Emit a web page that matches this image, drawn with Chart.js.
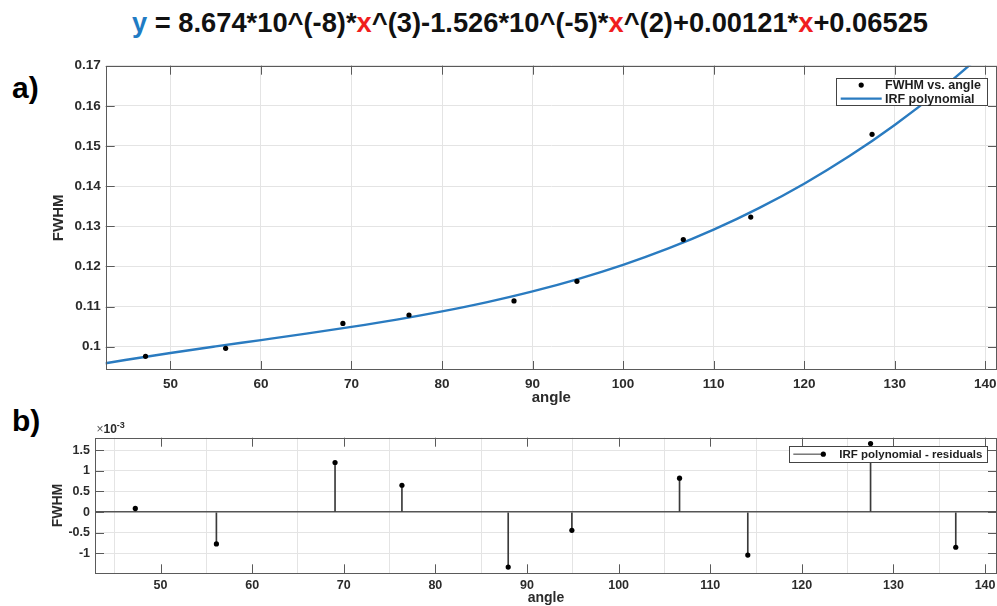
<!DOCTYPE html>
<html>
<head>
<meta charset="utf-8">
<script src="https://cdn.jsdelivr.net/npm/chart.js@4.4.1/dist/chart.umd.min.js"></script>
<style>
  html, body { margin: 0; padding: 0; background: #fff; }
  body {
    width: 997px; height: 606px; position: relative; overflow: hidden;
    font-family: "Liberation Sans", Arial, Helvetica, sans-serif;
  }
  #equation {
    position: absolute; left: 0; top: 9px; width: 1060px;
    text-align: center; white-space: nowrap;
    font-size: 27.3px; line-height: 27px; font-weight: bold; color: #111;
  }
  #equation .y { color: #1f7cc4; }
  #equation .x { color: #f01e1e; }
  .panel {
    position: absolute; left: 12px;
    font-size: 30px; line-height: 30px; font-weight: bold; color: #000;
  }
  canvas { position: absolute; left: 0; }
</style>
</head>
<body>
<div id="equation"><span class="y">y</span> = 8.674*10^(-8)*<span class="x">x</span>^(3)-1.526*10^(-5)*<span class="x">x</span>^(2)+0.00121*<span class="x">x</span>+0.06525</div>
<div class="panel" style="top:73px">a)</div>
<div class="panel" style="top:406px">b)</div>
<canvas id="fitChart" width="997" height="360" style="top:50px"></canvas>
<canvas id="residChart" width="997" height="196" style="top:410px"></canvas>

<script>
// measured peak widths
const fitAngle = [47.25, 56.1, 69.05, 76.35, 87.95, 94.9, 106.65, 114.1, 127.5];
const fitFwhm  = [0.0976, 0.0996, 0.1058, 0.1079, 0.1114, 0.1163, 0.1267, 0.1323, 0.1529];

// IRF polynomial, sampled along the angle range
const curveAngle = [42, 45, 50, 55, 60, 65, 70, 75, 80, 85, 90, 95, 100, 105, 110, 115, 120, 125, 130, 135, 140, 142];
const curveFwhm  = [0.09558, 0.09670, 0.09844, 0.10007, 0.10165, 0.10325, 0.10493, 0.10675, 0.10880, 0.11112,
                    0.11378, 0.11685, 0.12039, 0.12447, 0.12915, 0.13451, 0.14060, 0.14748, 0.15523, 0.16391,
                    0.17357, 0.17773];

// residuals (units of 1e-3)
const residAngle = [47.25, 56.1, 69.05, 76.35, 87.95, 94.9, 106.65, 114.1, 127.5, 136.8];
const residual   = [0.09, -0.77, 1.2, 0.65, -1.33, -0.44, 0.82, -1.04, 1.66, -0.85];

const angleTicks = [50, 60, 70, 80, 90, 100, 110, 120, 130, 140];
const fwhmTicks  = [0.1, 0.11, 0.12, 0.13, 0.14, 0.15, 0.16, 0.17];
const residTicks = [-1, -0.5, 0, 0.5, 1, 1.5];

const FONT = '"Liberation Sans", Arial, Helvetica, sans-serif';
const TEXT = '#2b2b2b';
const AXIS = '#5a5a5a';
const GRID = '#e4e4e4';
const BLUE = '#2a7bc0';

Chart.defaults.font.family = FONT;

// box around the axes with inward tick marks on all four sides
const axesBox = {
  id: 'axesBox',
  afterDatasetsDraw(chart) {
    const { ctx, chartArea: a, scales: { x, y } } = chart;
    const len = 9;
    ctx.save();
    ctx.strokeStyle = AXIS;
    ctx.lineWidth = 1;
    ctx.beginPath();
    x.ticks.forEach(t => {
      const px = Math.round(x.getPixelForValue(t.value)) + 0.5;
      ctx.moveTo(px, a.bottom); ctx.lineTo(px, a.bottom - len);
      ctx.moveTo(px, a.top); ctx.lineTo(px, a.top + len);
    });
    y.ticks.forEach(t => {
      const py = Math.round(y.getPixelForValue(t.value)) + 0.5;
      ctx.moveTo(a.left, py); ctx.lineTo(a.left + len, py);
      ctx.moveTo(a.right, py); ctx.lineTo(a.right - len, py);
    });
    ctx.stroke();
    ctx.strokeRect(Math.round(a.left) + 0.5, Math.round(a.top) + 0.5,
                   Math.round(a.right - a.left) - 1, Math.round(a.bottom - a.top) - 1);
    ctx.restore();
  }
};

// legend box drawn in the upper right corner of the plot area
const boxLegend = {
  id: 'boxLegend',
  afterDraw(chart, args, opts) {
    if (!opts.items) return;
    const { ctx, chartArea: a } = chart;
    const w = opts.width, h = opts.rowHeight * opts.items.length + opts.pad * 2;
    const left = a.right - opts.right - w, top = a.top + opts.top;
    ctx.save();
    ctx.fillStyle = '#fff';
    ctx.fillRect(left, top, w, h);
    ctx.strokeStyle = '#444';
    ctx.lineWidth = 1;
    ctx.strokeRect(Math.round(left) + 0.5, Math.round(top) + 0.5, Math.round(w), Math.round(h));
    ctx.font = 'bold ' + opts.fontSize + 'px ' + FONT;
    ctx.textBaseline = 'middle';
    opts.items.forEach((it, i) => {
      const cy = top + opts.pad + opts.rowHeight * (i + 0.5);
      const x0 = left + opts.sample[0], x1 = left + opts.sample[1];
      if (it.line) {
        ctx.strokeStyle = it.line;
        ctx.lineWidth = it.lineWidth;
        ctx.beginPath(); ctx.moveTo(x0, cy); ctx.lineTo(x1, cy); ctx.stroke();
      }
      if (it.dot) {
        ctx.fillStyle = it.dot;
        ctx.beginPath(); ctx.arc(it.dotAt === 'end' ? x1 : (x0 + x1) / 2, cy, 2.6, 0, Math.PI * 2); ctx.fill();
      }
      ctx.fillStyle = '#1e1e1e';
      ctx.fillText(it.text, left + opts.textX, cy + 0.5);
    });
    ctx.restore();
  }
};

// "x10^-3" exponent above the residual axis
const exponentLabel = {
  id: 'exponentLabel',
  afterDraw(chart) {
    const { ctx, chartArea: a } = chart;
    const by = a.top - 4.7;
    let x = a.left + 1.5;
    ctx.save();
    ctx.fillStyle = '#555';
    ctx.textBaseline = 'alphabetic';
    ctx.font = '12px ' + FONT;
    ctx.fillText('\u00d7', x, by);
    x += ctx.measureText('\u00d7').width;
    ctx.fillStyle = TEXT;
    ctx.font = 'bold 12px ' + FONT;
    ctx.fillText('10', x, by);
    x += ctx.measureText('10').width;
    ctx.font = 'bold 9px ' + FONT;
    ctx.fillText('-3', x, by - 5);
    ctx.restore();
  }
};

function xScale(tickSize, titleSize, height, tickPad, titleBottom) {
  return {
    type: 'linear', min: 42.85, max: 141.3, offset: false,
    afterBuildTicks: s => { s.ticks = angleTicks.map(v => ({ value: v })); },
    afterFit: s => { s.height = height; s.paddingLeft = 0; s.paddingRight = 0; },
    grid: { color: GRID, drawTicks: false },
    border: { display: false },
    ticks: { padding: tickPad, color: TEXT, font: { size: tickSize, weight: 'bold' }, maxRotation: 0, callback: v => String(v) },
    title: { display: true, text: 'angle', color: TEXT, font: { size: titleSize, weight: 'bold' }, padding: { top: 0, bottom: titleBottom } }
  };
}

new Chart(document.getElementById('fitChart'), {
  type: 'scatter',
  data: {
    datasets: [
      {
        label: 'FWHM vs. angle',
        data: fitAngle.map((a, i) => ({ x: a, y: fitFwhm[i] })),
        backgroundColor: '#000', borderColor: '#000', pointRadius: 2.6, borderWidth: 0, order: 0
      },
      {
        type: 'line',
        label: 'IRF polynomial',
        data: curveAngle.map((a, i) => ({ x: a, y: curveFwhm[i] })),
        borderColor: BLUE, borderWidth: 2.4, pointRadius: 0, fill: false,
        cubicInterpolationMode: 'monotone', order: 1
      }
    ]
  },
  options: {
    responsive: false, animation: false, events: [],
    layout: { autoPadding: false, padding: { left: 0, right: 0, top: 15.7, bottom: 0 } },
    plugins: {
      legend: { display: false },
      tooltip: { enabled: false },
      boxLegend: {
        width: 150.7, right: 10.3, top: 12.6, rowHeight: 13.5, pad: 0,
        fontSize: 12.5, sample: [4.7, 45.7], textX: 49,
        items: [
          { text: 'FWHM vs. angle', dot: '#000' },
          { text: 'IRF polynomial', line: BLUE, lineWidth: 2.2 }
        ]
      }
    },
    scales: {
      x: xScale(13.5, 15, 40, 6, 3),
      y: {
        min: 0.0942, max: 0.17,
        afterBuildTicks: s => { s.ticks = fwhmTicks.map(v => ({ value: v })); },
        afterFit: s => { s.width = 105.7; s.paddingTop = 0; s.paddingBottom = 0; },
        grid: { color: GRID, drawTicks: false },
        border: { display: false },
        ticks: { padding: 5, color: TEXT, font: { size: 13.5, weight: 'bold' }, callback: v => String(v) },
        title: { display: true, text: 'FWHM', color: TEXT, font: { size: 15, weight: 'bold' }, padding: { top: 50, bottom: 0 } }
      }
    }
  },
  plugins: [axesBox, boxLegend]
});

new Chart(document.getElementById('residChart'), {
  type: 'scatter',
  data: {
    datasets: [
      {
        label: 'IRF polynomial - residuals',
        data: residAngle.map((a, i) => ({ x: a, y: residual[i] })),
        backgroundColor: '#000', borderColor: '#000', pointRadius: 2.6, borderWidth: 0, order: 0
      },
      {
        type: 'bar',
        label: 'stems',
        data: residAngle.map((a, i) => ({ x: a, y: residual[i] })),
        backgroundColor: '#3a3a3a', borderWidth: 0, barThickness: 1, order: 1
      }
    ]
  },
  options: {
    responsive: false, animation: false, events: [],
    layout: { autoPadding: false, padding: { left: 0, right: 0, top: 27.7, bottom: 0 } },
    plugins: {
      legend: { display: false },
      tooltip: { enabled: false },
      boxLegend: {
        width: 197.7, right: 10.3, top: 8.3, rowHeight: 16.3, pad: 0,
        fontSize: 11.5, sample: [4.3, 34.3], textX: 50.3,
        items: [
          { text: 'IRF polynomial - residuals', line: '#333', lineWidth: 1, dot: '#000', dotAt: 'end' }
        ]
      }
    },
    scales: {
      x: xScale(12.5, 14, 32.7, 5, -1),
      y: {
        min: -1.48, max: 1.8,
        afterBuildTicks: s => { s.ticks = residTicks.map(v => ({ value: v })); },
        afterFit: s => { s.width = 95; s.paddingTop = 0; s.paddingBottom = 0; },
        grid: {
          drawTicks: false,
          color: c => (c.tick && c.tick.value === 0 ? '#555' : GRID),
          lineWidth: c => (c.tick && c.tick.value === 0 ? 1.4 : 1)
        },
        border: { display: false },
        ticks: { padding: 5, color: TEXT, font: { size: 12.5, weight: 'bold' }, callback: v => String(v) },
        title: { display: true, text: 'FWHM', color: TEXT, font: { size: 14, weight: 'bold' }, padding: { top: 50, bottom: 0 } }
      }
    }
  },
  plugins: [axesBox, boxLegend, exponentLabel]
});
</script>
</body>
</html>
